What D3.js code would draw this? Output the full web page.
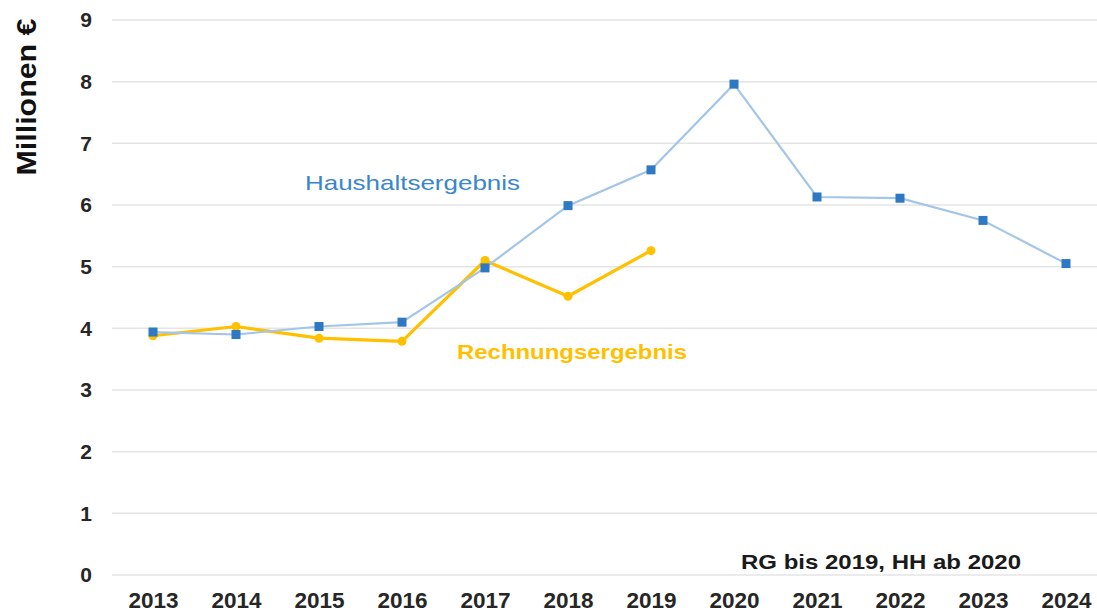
<!DOCTYPE html>
<html><head><meta charset="utf-8">
<script src="https://cdn.jsdelivr.net/npm/d3@7"></script>
<style>html,body{margin:0;padding:0;background:#fff;}svg{display:block;}</style>
</head><body>
<svg id="c" width="1097" height="613"></svg>
<script>
const years = ["2013","2014","2015","2016","2017","2018","2019","2020","2021","2022","2023","2024"];
const haushalt = [3.94,3.90,4.03,4.10,4.98,5.99,6.57,7.96,6.13,6.11,5.75,5.05];
const rechnung = [3.88,4.03,3.84,3.79,5.10,4.52,5.26];
const yTicks = [0,1,2,3,4,5,6,7,8,9];

const svg = d3.select("#c");
const font = "'Liberation Sans', Arial, sans-serif";
const x = d3.scalePoint().domain(years).range([153,1066]);
const y = d3.scaleLinear().domain([0,9]).range([575,20]);

// gridlines
svg.append("g").selectAll("line").data(yTicks).join("line")
  .attr("x1",112).attr("x2",1097)
  .attr("y1",d=>y(d)).attr("y2",d=>y(d))
  .attr("stroke","#e4e4e4").attr("stroke-width",1.5);

// y axis
const ya = svg.append("g").attr("transform","translate(104,0)")
  .call(d3.axisLeft(y).tickValues(yTicks).tickSize(0).tickPadding(12).tickFormat(d3.format("d")));
ya.select(".domain").remove();
ya.selectAll("text").attr("font-family",font).attr("font-size",21).attr("font-weight","bold").attr("fill","#262626");

// x axis
const xa = svg.append("g").attr("transform","translate(0,588)")
  .call(d3.axisBottom(x).tickSize(0).tickPadding(4));
xa.select(".domain").remove();
xa.selectAll("text").attr("font-family",font).attr("font-size",22.5).attr("font-weight","bold").attr("fill","#262626");

// y label
svg.append("text").attr("transform","translate(36,97) rotate(-90)")
  .attr("text-anchor","middle").attr("font-family",font).attr("font-size",27).attr("font-weight","bold")
  .attr("fill","#111").attr("textLength",157).attr("lengthAdjust","spacingAndGlyphs").text("Millionen €");

const line = d3.line().x((d,i)=>x(years[i])).y(d=>y(d));

// orange line
svg.append("path").datum(rechnung).attr("d",line).attr("fill","none")
  .attr("stroke","#ffc000").attr("stroke-width",3.2).attr("stroke-linejoin","round");
svg.append("g").selectAll("circle").data(rechnung).join("circle")
  .attr("cx",(d,i)=>x(years[i])).attr("cy",d=>y(d)).attr("r",4.5).attr("fill","#ffc000");

// blue line
svg.append("path").datum(haushalt).attr("d",line).attr("fill","none")
  .attr("stroke","#a3c6e8").attr("stroke-width",2.2);
svg.append("g").selectAll("rect").data(haushalt).join("rect")
  .attr("x",(d,i)=>x(years[i])-4.5).attr("y",d=>y(d)-4.5)
  .attr("width",9).attr("height",9).attr("fill","#2f78c2");

// annotations
svg.append("text").attr("x",305).attr("y",190).attr("font-family",font).attr("font-size",21)
  .attr("fill","#3a86cc").attr("textLength",215).attr("lengthAdjust","spacingAndGlyphs").text("Haushaltsergebnis");
svg.append("text").attr("x",457).attr("y",359).attr("font-family",font).attr("font-size",21).attr("font-weight","bold")
  .attr("fill","#ffc000").attr("textLength",230).attr("lengthAdjust","spacingAndGlyphs").text("Rechnungsergebnis");
svg.append("text").attr("x",741).attr("y",569).attr("font-family",font).attr("font-size",21).attr("font-weight","bold")
  .attr("fill","#1a1a1a").attr("textLength",280).attr("lengthAdjust","spacingAndGlyphs").text("RG bis 2019, HH ab 2020");
</script>
</body></html>
